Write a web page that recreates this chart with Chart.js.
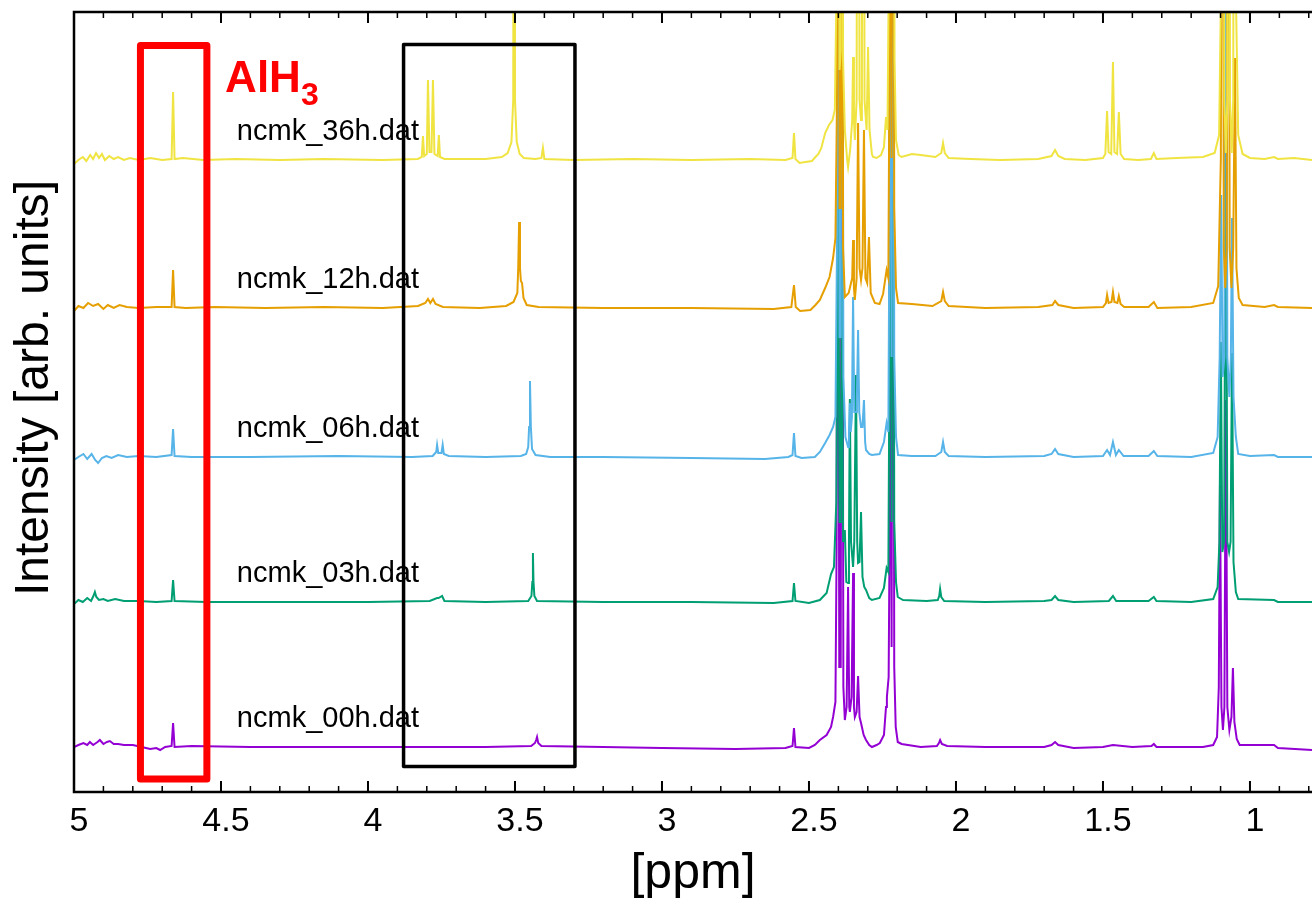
<!DOCTYPE html>
<html>
<head>
<meta charset="utf-8">
<script src="https://cdn.jsdelivr.net/npm/chart.js@4.4.0/dist/chart.umd.min.js"></script>
<style>
  html, body { margin: 0; padding: 0; background: #fff; }
  canvas { display: block; }
</style>
</head>
<body>
<canvas id="nmr" width="1312" height="899"></canvas>
<script>
// [ppm, intensity above the trace's own baseline]
const spec36h = [[5.000,-4],[4.985,0],[4.970,3],[4.958,-1],[4.945,5],[4.935,1],[4.925,7],[4.915,2],[4.905,6],[4.895,0],[4.880,4],[4.865,1],[4.850,3],[4.830,0],[4.810,2],[4.780,0],[4.740,2],[4.700,0],[4.668,1],[4.663,68],[4.658,1],[4.630,2],[4.560,0],[4.450,1],[4.300,0],[4.150,1],[3.950,0],[3.830,1],
  [3.817,3],[3.813,24],[3.809,4],[3.800,6],[3.796,80],[3.791,8],[3.784,8],[3.779,80],[3.774,6],[3.763,4],[3.759,25],[3.755,3],[3.740,1],
  [3.600,1],[3.545,3],[3.525,7],[3.512,18],[3.506,60],[3.503,700],[3.500,60],[3.494,18],[3.484,6],[3.470,2],[3.430,1],[3.410,2],[3.405,12],[3.400,1],[3.300,0],[3.100,1],[2.900,0],[2.700,1],[2.580,0],[2.556,2],[2.551,27],[2.546,1],[2.532,-3],[2.512,-2],[2.490,-1],[2.478,3],[2.468,6],[2.458,12],[2.445,27],[2.432,35],[2.420,40],[2.412,50],
  [2.405,200],[2.401,900],[2.396,90],[2.392,110],[2.388,900],[2.384,100],[2.378,30],[2.370,0],[2.367,-7],[2.360,10],[2.353,40],[2.350,103],[2.347,40],[2.344,20],[2.338,60],[2.333,900],[2.328,60],[2.323,40],[2.320,70],[2.316,900],[2.311,60],[2.304,30],[2.299,113],[2.294,30],[2.286,6],[2.282,3],[2.270,2],[2.255,5],[2.245,13],[2.238,43],[2.233,30],[2.228,200],[2.224,900],[2.219,150],[2.214,900],[2.209,100],[2.204,20],[2.195,5],[2.185,3],[2.150,6],[2.120,5],[2.070,3],[2.050,7],[2.044,17],[2.038,7],[2.025,2],[1.950,1],[1.850,0],[1.720,1],[1.675,4],[1.663,10],[1.652,4],[1.630,1],[1.560,0],[1.500,2],[1.492,6],[1.486,49],[1.481,8],[1.472,6],[1.466,98],[1.461,8],[1.452,6],[1.446,48],[1.440,6],[1.428,1],[1.380,0],[1.337,1],[1.327,7],[1.318,1],[1.250,2],[1.160,3],[1.120,7],[1.105,25],[1.097,200],[1.092,900],[1.087,60],[1.082,7],[1.077,60],[1.073,900],[1.068,60],[1.062,7],[1.057,60],[1.052,900],[1.047,150],[1.040,25],[1.025,6],[1.000,2],[0.950,1],[0.918,3],[0.905,1],[0.850,2],[0.789,0]];

const spec12h = [[5.000,-3],[4.985,2],[4.968,0],[4.952,5],[4.935,2],[4.918,4],[4.900,-1],[4.885,3],[4.865,0],[4.845,3],[4.820,1],[4.780,0],[4.720,1],[4.668,1],[4.663,38],[4.658,1],[4.620,0],[4.520,1],[4.350,0],[4.150,1],[3.950,0],[3.830,2],[3.805,5],[3.796,9],[3.788,5],[3.779,9],[3.770,4],[3.745,1],[3.620,0],[3.530,2],[3.505,6],[3.492,15],[3.489,40],[3.486,86],[3.483,40],[3.480,27],[3.476,25],[3.471,10],[3.460,3],[3.420,1],[3.200,0],[2.900,0],[2.620,-1],[2.560,1],[2.551,23],[2.545,1],[2.530,-3],[2.495,-2],[2.478,3],[2.463,8],[2.445,20],[2.430,31],[2.418,50],[2.410,70],
  [2.405,200],[2.401,900],[2.396,100],[2.392,100],[2.388,900],[2.384,60],[2.378,11],[2.365,15],[2.353,30],[2.350,68],[2.347,20],[2.344,8],[2.338,30],[2.333,185],[2.328,40],[2.323,28],[2.318,40],[2.313,178],[2.308,30],[2.302,25],[2.296,71],[2.290,15],[2.276,5],[2.260,4],[2.248,14],[2.236,38],[2.230,30],[2.227,200],[2.224,900],[2.219,150],[2.214,900],[2.210,100],[2.204,20],[2.197,5],[2.150,4],[2.080,2],[2.050,7],[2.044,16],[2.038,7],[2.025,2],[1.900,0],[1.720,1],[1.672,3],[1.663,7],[1.652,3],[1.600,0],[1.500,1],[1.490,5],[1.486,13],[1.481,5],[1.471,6],[1.466,16],[1.461,6],[1.451,5],[1.446,12],[1.440,4],[1.428,1],[1.345,1],[1.327,6],[1.315,0],[1.200,1],[1.125,5],[1.108,22],[1.099,150],[1.094,900],[1.089,60],[1.084,20],[1.079,60],[1.074,900],[1.069,60],[1.063,20],[1.057,60],[1.051,250],[1.046,40],[1.038,10],[1.025,3],[0.950,1],[0.918,3],[0.905,1],[0.789,0]];

const spec06h = [[5.000,-3],[4.985,0],[4.968,3],[4.955,-2],[4.940,3],[4.928,-3],[4.918,-6],[4.905,-1],[4.890,1],[4.872,-1],[4.850,2],[4.820,0],[4.780,1],[4.720,0],[4.668,2],[4.663,28],[4.658,1],[4.600,0],[4.400,0],[4.100,1],[3.850,0],[3.780,1],[3.768,5],[3.765,12],[3.761,4],[3.750,4],[3.746,12],[3.742,3],[3.725,1],[3.600,0],[3.480,1],[3.462,3],[3.455,10],[3.452,30],[3.449,76],[3.446,30],[3.442,8],[3.430,2],[3.380,0],[3.200,0],[2.900,-1],[2.650,-2],[2.570,0],[2.556,2],[2.551,24],[2.546,1],[2.525,-1],[2.480,0],[2.463,5],[2.445,14],[2.430,22],[2.418,30],[2.410,40],
  [2.405,200],[2.402,900],[2.396,120],[2.392,120],[2.388,900],[2.383,80],[2.376,20],[2.367,10],[2.364,25],[2.361,54],[2.358,25],[2.354,40],[2.350,160],[2.346,45],[2.340,45],[2.337,60],[2.333,127],[2.329,45],[2.323,30],[2.318,30],[2.313,57],[2.309,15],[2.306,7],[2.295,3],[2.286,2],[2.260,3],[2.245,15],[2.236,34],[2.230,25],[2.227,200],[2.224,900],[2.219,100],[2.214,900],[2.210,100],[2.204,20],[2.197,2],[2.150,1],[2.070,1],[2.050,5],[2.044,15],[2.038,5],[2.025,1],[1.900,0],[1.700,1],[1.675,3],[1.663,8],[1.652,3],[1.600,0],[1.500,1],[1.486,7],[1.476,2],[1.466,15],[1.456,2],[1.446,7],[1.430,1],[1.345,1],[1.327,6],[1.315,1],[1.200,0],[1.125,4],[1.110,20],[1.103,100],[1.098,262],[1.093,80],[1.087,100],[1.082,900],[1.077,100],[1.070,60],[1.065,100],[1.061,239],[1.056,60],[1.048,20],[1.040,3],[1.000,1],[0.918,2],[0.905,0],[0.789,0]];

const spec03h = [[5.000,-2],[4.985,2],[4.970,0],[4.955,4],[4.942,1],[4.934,6],[4.929,10],[4.924,5],[4.915,2],[4.900,3],[4.885,1],[4.860,3],[4.830,1],[4.780,1],[4.720,0],[4.668,1],[4.663,22],[4.658,1],[4.550,0],[4.300,0],[4.000,0],[3.790,1],[3.765,4],[3.760,4],[3.748,6],[3.740,1],[3.600,0],[3.455,1],[3.444,6],[3.441,20],[3.439,49],[3.437,20],[3.434,6],[3.425,1],[3.200,0],[2.900,0],[2.620,-1],[2.556,1],[2.551,19],[2.546,1],[2.500,-1],[2.463,2],[2.440,9],[2.425,28],[2.415,35],
  [2.407,100],[2.401,420],[2.396,80],[2.392,80],[2.388,360],[2.384,60],[2.378,72],[2.373,20],[2.367,19],[2.364,60],[2.361,203],[2.357,60],[2.350,35],[2.346,60],[2.340,227],[2.336,60],[2.333,39],[2.328,40],[2.323,90],[2.318,25],[2.312,15],[2.306,12],[2.295,4],[2.286,2],[2.260,4],[2.245,14],[2.236,34],[2.230,30],[2.227,200],[2.224,900],[2.219,80],[2.214,900],[2.210,80],[2.204,20],[2.198,5],[2.180,2],[2.100,1],[2.062,2],[2.057,6],[2.054,13],[2.050,5],[2.040,1],[1.900,0],[1.700,1],[1.675,2],[1.663,6],[1.652,2],[1.600,0],[1.480,1],[1.466,6],[1.455,1],[1.345,1],[1.327,5],[1.318,1],[1.200,0],[1.125,3],[1.110,15],[1.104,60],[1.099,260],[1.094,50],[1.088,60],[1.082,502],[1.077,60],[1.071,50],[1.066,60],[1.061,249],[1.056,40],[1.048,10],[1.040,3],[0.918,2],[0.905,0],[0.789,0]];

const spec00h = [[5.000,0],[4.985,2],[4.968,4],[4.955,2],[4.946,5],[4.935,2],[4.920,5],[4.912,7],[4.900,3],[4.888,5],[4.878,6],[4.865,3],[4.850,3],[4.830,2],[4.800,2],[4.770,0],[4.741,-2],[4.720,-1],[4.707,-3],[4.690,0],[4.668,1],[4.663,24],[4.658,0],[4.600,1],[4.400,0],[4.100,0],[3.800,0],[3.600,0],[3.445,1],[3.432,4],[3.428,7],[3.425,10],[3.421,4],[3.410,1],[3.200,0],[3.000,-1],[2.750,-2],[2.580,-1],[2.556,1],[2.551,19],[2.546,0],[2.500,-1],[2.480,2],[2.463,7],[2.440,12],[2.425,20],[2.418,30],[2.410,45],
  [2.406,200],[2.402,900],[2.397,80],[2.392,80],[2.388,900],[2.383,60],[2.378,27],[2.372,40],[2.367,160],[2.363,40],[2.361,35],[2.355,50],[2.350,174],[2.347,40],[2.344,30],[2.338,35],[2.333,71],[2.328,30],[2.323,24],[2.314,12],[2.306,7],[2.295,2],[2.286,0],[2.270,2],[2.259,4],[2.245,12],[2.238,40],[2.235,50],[2.229,70],[2.226,200],[2.224,900],[2.219,100],[2.214,900],[2.210,80],[2.205,20],[2.198,5],[2.185,3],[2.120,0],[2.065,1],[2.058,4],[2.054,7],[2.048,3],[2.030,1],[1.900,0],[1.700,0],[1.675,2],[1.663,5],[1.652,2],[1.600,-1],[1.500,0],[1.466,2],[1.400,0],[1.335,1],[1.327,3],[1.318,0],[1.160,0],[1.125,2],[1.112,10],[1.106,60],[1.102,262],[1.097,40],[1.092,17],[1.087,40],[1.082,347],[1.077,40],[1.070,17],[1.063,30],[1.058,79],[1.053,25],[1.045,8],[1.035,2],[0.918,2],[0.905,-1],[0.789,-3]];

const seriesNames = ["ncmk_36h.dat", "ncmk_12h.dat", "ncmk_06h.dat", "ncmk_03h.dat", "ncmk_00h.dat"];
const seriesData = [spec36h, spec12h, spec06h, spec03h, spec00h];
const baselines = [632, 484, 335, 190, 45];
const colors = ["#f0e442", "#e69f00", "#56b4e9", "#009e73", "#9400d3"];

const xTicks = [5, 4.5, 4, 3.5, 3, 2.5, 2, 1.5, 1];

// boxes drawn over the spectra, in data units
const redBox = [[4.774,13],[4.774,746.5],[4.548,746.5],[4.548,13],[4.774,13]];
const blackBox = [[3.879,25.5],[3.879,747.5],[3.296,747.5],[3.296,25.5],[3.879,25.5]];

const FONT = '"Liberation Sans", Arial, sans-serif';

const datasets = [
  {
    label: "AlH3 box",
    data: redBox.map(([x, y]) => ({ x, y })),
    borderColor: "#ff0000",
    borderWidth: 7,
    borderJoinStyle: "round",
    borderCapStyle: "round",
    pointRadius: 0,
    fill: false
  },
  {
    label: "box",
    data: blackBox.map(([x, y]) => ({ x, y })),
    borderColor: "#000000",
    borderWidth: 3.5,
    borderJoinStyle: "round",
    borderCapStyle: "round",
    pointRadius: 0,
    fill: false
  }
];

seriesData.forEach((spec, i) => {
  datasets.push({
    label: seriesNames[i],
    data: spec.map(([x, v]) => ({ x, y: v + baselines[i] })),
    borderColor: colors[i],
    borderWidth: 2,
    pointRadius: 0,
    tension: 0,
    fill: false
  });
});

const decorations = {
  id: "decorations",
  afterDatasetsDraw(chart) {
    const { ctx, chartArea: a, scales: { x, y } } = chart;
    ctx.save();
    ctx.strokeStyle = "#000";

    // inward ticks on top and bottom, minor every 0.1
    for (let i = 8; i <= 50; i++) {
      const px = x.getPixelForValue(i / 10);
      if (px < a.left - 1 || px > a.right + 1) continue;
      const major = i % 5 === 0;
      const len = major ? 11 : 6;
      ctx.lineWidth = major ? 2 : 1.5;
      ctx.beginPath();
      ctx.moveTo(px, a.bottom);
      ctx.lineTo(px, a.bottom - len);
      ctx.moveTo(px, a.top);
      ctx.lineTo(px, a.top + len);
      ctx.stroke();
    }

    // frame (right side runs off the page)
    ctx.lineWidth = 2.5;
    ctx.beginPath();
    ctx.moveTo(a.right + 2, a.top);
    ctx.lineTo(a.left, a.top);
    ctx.lineTo(a.left, a.bottom);
    ctx.lineTo(a.right + 2, a.bottom);
    ctx.stroke();

    // trace labels
    ctx.fillStyle = "#000";
    ctx.font = "29px " + FONT;
    ctx.textAlign = "left";
    ctx.textBaseline = "alphabetic";
    const lx = x.getPixelForValue(4.446);
    seriesNames.forEach((name, i) => {
      ctx.fillText(name, lx, y.getPixelForValue(baselines[i] + 20));
    });

    // AlH3 tag
    ctx.fillStyle = "#ff0000";
    ctx.font = "bold 44px " + FONT;
    const ax = x.getPixelForValue(4.486);
    const ay = y.getPixelForValue(700);
    ctx.fillText("AlH", ax, ay);
    const w = ctx.measureText("AlH").width;
    ctx.font = "bold 32px " + FONT;
    ctx.fillText("3", ax + w, ay + 13);

    // y title
    ctx.fillStyle = "#000";
    ctx.font = "48px " + FONT;
    ctx.textAlign = "center";
    ctx.translate(48, 388);
    ctx.rotate(-Math.PI / 2);
    ctx.fillText("Intensity [arb. units]", 0, 0);
    ctx.restore();
  }
};

new Chart(document.getElementById("nmr").getContext("2d"), {
  type: "line",
  data: { datasets },
  options: {
    responsive: false,
    animation: false,
    devicePixelRatio: 1,
    layout: { padding: { top: 12, right: 0, bottom: 0, left: 0 } },
    plugins: { legend: { display: false }, tooltip: { enabled: false } },
    scales: {
      x: {
        type: "linear",
        reverse: true,
        min: 0.789,
        max: 5,
        grid: { display: false },
        border: { display: false },
        afterFit(scale) { scale.height = 107; },
        afterBuildTicks(scale) { scale.ticks = xTicks.map(v => ({ value: v })); },
        ticks: {
          autoSkip: false,
          maxRotation: 0,
          padding: 1,
          labelOffset: 5,
          color: "#000",
          font: { family: FONT, size: 34 },
          callback: v => String(Math.round(v * 10) / 10)
        },
        title: {
          display: true,
          text: "[ppm]",
          color: "#000",
          font: { family: FONT, size: 50, lineHeight: 1 },
          padding: { top: 0, bottom: 0 }
        }
      },
      y: {
        min: 0,
        max: 780,
        grid: { display: false },
        border: { display: false },
        ticks: { display: false },
        afterFit(scale) { scale.width = 74; }
      }
    }
  },
  plugins: [decorations]
});
</script>
</body>
</html>
